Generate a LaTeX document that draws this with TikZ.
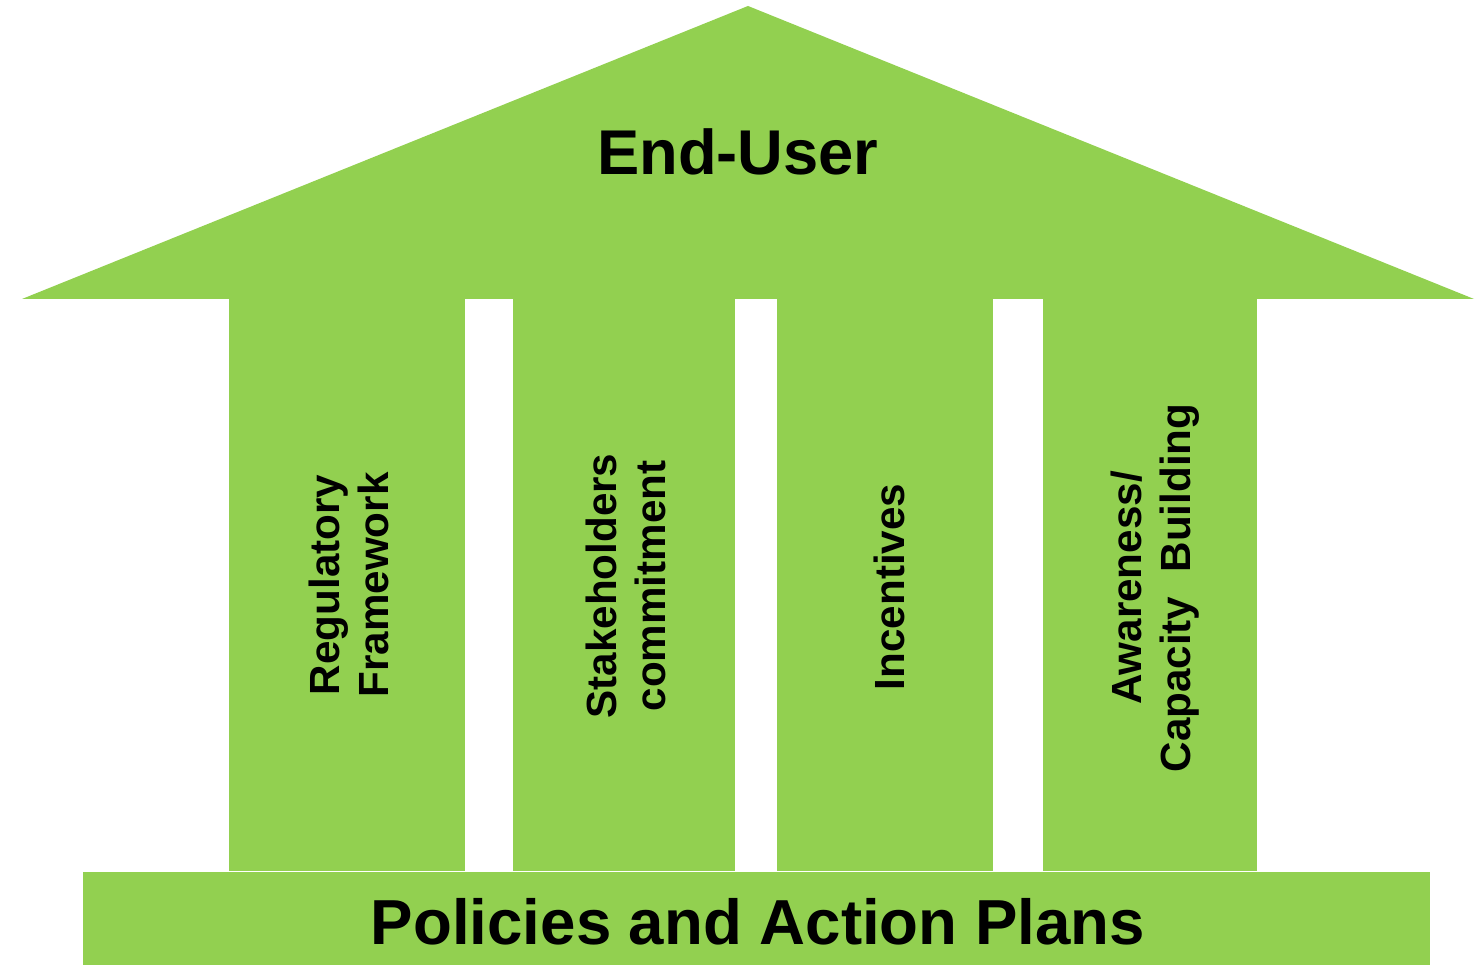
\documentclass[tikz,border=0pt]{standalone}
\usepackage{fontspec}
\setmainfont{Liberation Sans}
\usepackage{tikz}
\definecolor{roofgreen}{RGB}{146,208,80}

\begin{document}
\begin{tikzpicture}
  [every node/.style={align=center,text=black,inner sep=0pt}]
  \tikzstyle{pillar text}=[rotate=90,font=\fontsize{12}{13.9}\selectfont\bfseries]
  \useasboundingbox (0,0) rectangle (14.75,9.65);

  % roof
  \begin{scope}
    \fill[roofgreen] (0.22,6.66) -- (7.48,9.59) -- (14.74,6.66) -- cycle;
    \node[font=\fontsize{18}{22}\selectfont\bfseries] (enduser) at (7.38,8.13) {End-User};
  \end{scope}

  % pillars
  \begin{scope}
    \fill[roofgreen] (2.29,6.67) rectangle (4.65,0.94);
    \fill[roofgreen] (5.13,6.67) rectangle (7.35,0.94);
    \fill[roofgreen] (7.77,6.67) rectangle (9.93,0.94);
    \fill[roofgreen] (10.43,6.67) rectangle (12.57,0.94);
    \node[pillar text] (reg) at (3.49,3.80) {Regulatory\\Framework};
    \node[pillar text] (stake) at (6.26,3.79) {Stakeholders\\commitment};
    \node[pillar text] (incent) at (8.89,3.78) {Incentives};
    \node[pillar text] (aware) at (11.55,3.77) {Awareness/\\Capacity\hspace{0.3em} Building};
  \end{scope}

  % base
  \begin{scope}
    \fill[roofgreen] (0.83,0) rectangle (14.30,0.93);
    \node[font=\fontsize{18.1}{22}\selectfont\bfseries] (policies) at (7.58,0.43) {Policies and Action Plans};
  \end{scope}

\end{tikzpicture}
\end{document}
